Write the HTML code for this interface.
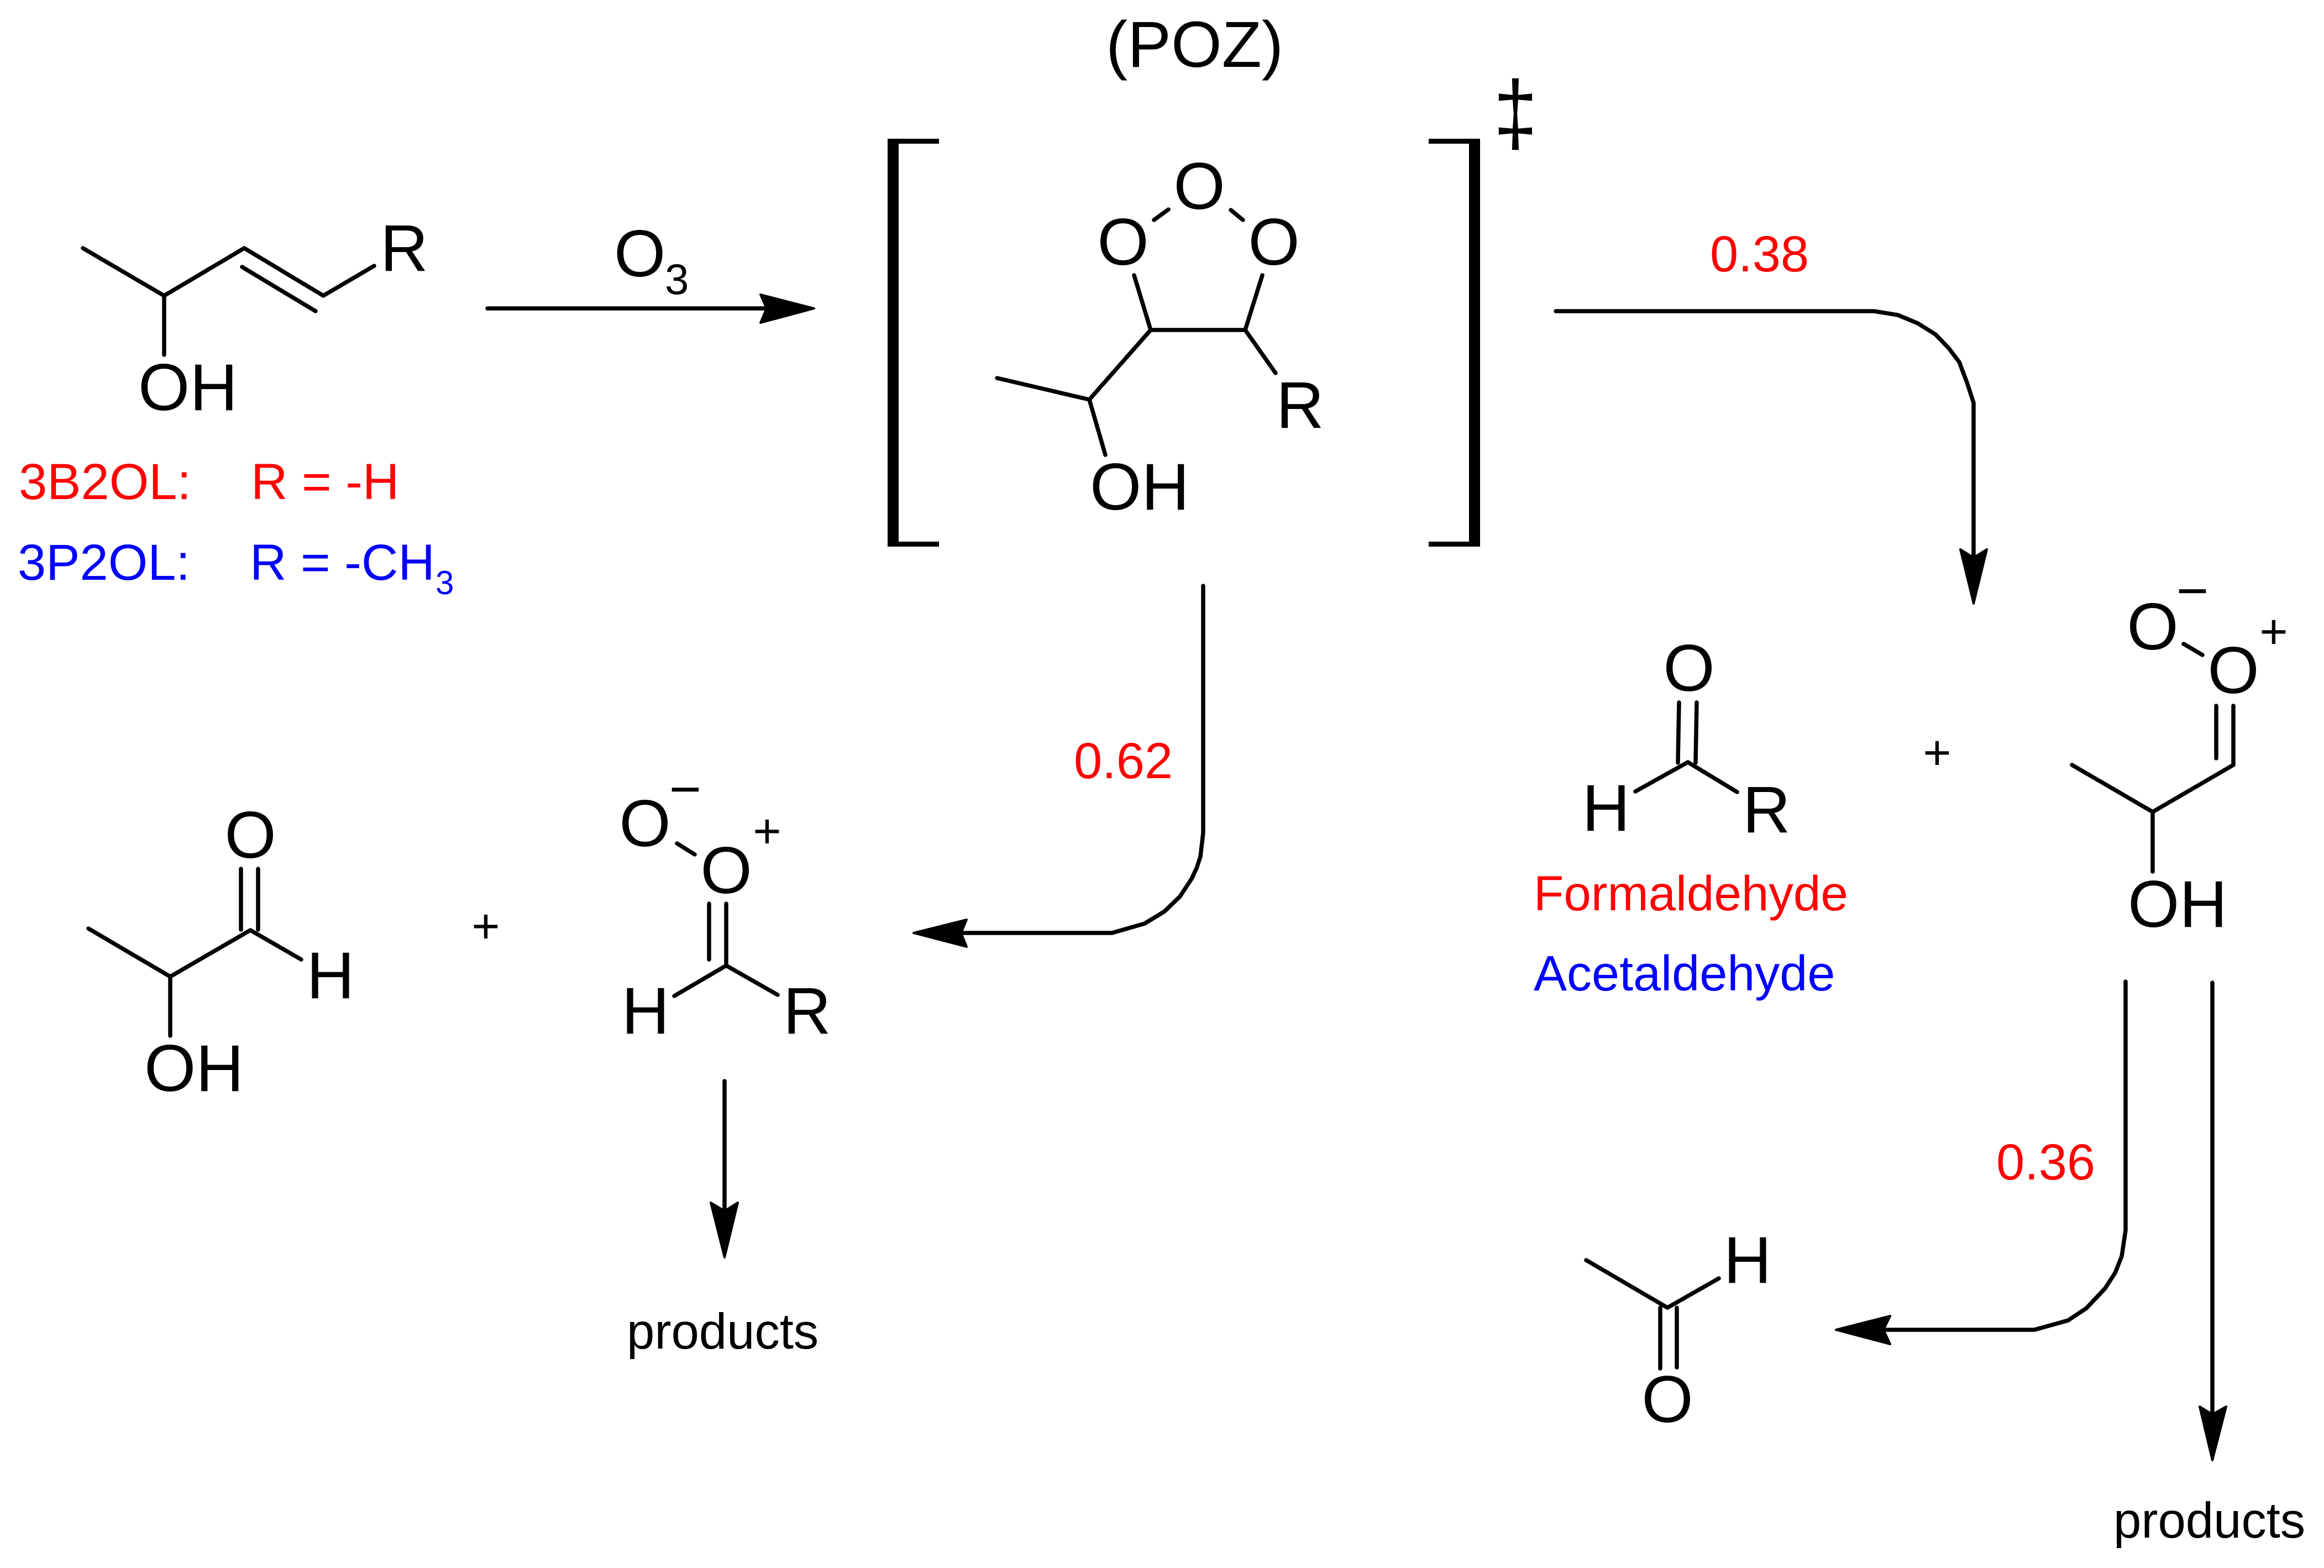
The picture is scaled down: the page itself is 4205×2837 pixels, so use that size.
<!DOCTYPE html>
<html><head><meta charset="utf-8"><style>
html,body{margin:0;padding:0;background:#fff}
svg{display:block}
text{font-family:"Liberation Sans",Arial,sans-serif;fill:#000}
.b{font-size:120px}
.m{text-anchor:middle}
.r{fill:#f00;font-size:92px}
.u{fill:#00f;font-size:92px}
.p{font-size:90px}
.c{font-size:88px;text-anchor:middle}
line,polyline,path.l{stroke:#000;stroke-width:7.5;stroke-linecap:round;stroke-linejoin:round;fill:none}
</style></head><body>
<svg xmlns="http://www.w3.org/2000/svg" width="4205" height="2837" viewBox="0 0 4205 2837">
<rect width="4205" height="2837" fill="#fff"/>
<!-- reactant -->
<polyline points="150,449 297,535 442,449 585,535 677,481"/>
<line x1="438" y1="483" x2="571" y2="563"/>
<line x1="297" y1="535" x2="297" y2="642"/>
<text class="b" x="250" y="742">OH</text>
<text class="b" x="688" y="490">R</text>
<text class="r" x="34" y="903">3B2OL:</text>
<text class="r" x="454" y="903">R = -H</text>
<text class="u" x="32" y="1049">3P2OL:</text>
<text class="u" x="452" y="1049">R = -CH</text>
<text class="u" x="788" y="1075" style="font-size:60px">3</text>
<!-- O3 arrow -->
<text class="b" x="1111" y="500">O</text>
<text x="1203" y="532" style="font-size:78px">3</text>
<line x1="882" y1="558" x2="1400" y2="558"/>
<polygon points="1473,558 1376,533 1387,558 1376,584" stroke="#000" stroke-width="4" stroke-linejoin="round"/>
<!-- POZ -->
<text class="b" x="2001" y="121" style="font-size:118px">(POZ)</text>
<path d="M1699,251H1606V989H1699V980H1626V260H1699Z"/>
<path d="M2585,251H2678V989H2585V980H2658V260H2585Z"/>
<text transform="translate(2742 260) scale(1.05 1.2)" text-anchor="middle" style="font-size:136px">‡</text>
<text class="b m" x="2170" y="378">O</text>
<text class="b m" x="2032" y="479">O</text>
<text class="b m" x="2305" y="479">O</text>
<line x1="2088" y1="398" x2="2114" y2="379"/>
<line x1="2227" y1="380" x2="2249" y2="398"/>
<polyline points="2052,498 2082,597 2253,597 2284,498"/>
<line x1="2253" y1="597" x2="2308" y2="675"/>
<polyline points="2082,597 1971,723 1804,684"/>
<line x1="1971" y1="723" x2="2000" y2="823"/>
<text class="b" x="2309" y="774">R</text>
<text class="b" x="1972" y="922">OH</text>
<!-- 0.38 arrow -->
<text class="r" x="3094" y="491">0.38</text>
<polyline points="2815,563 3391,563 3434,570 3470,585 3502,605 3526,630 3545,655 3559,692 3571,729 3571,1020"/>
<polygon points="3571,1092 3547,994 3571,1009 3595,994" stroke="#000" stroke-width="4" stroke-linejoin="round"/>
<!-- formaldehyde -->
<text class="b m" x="3056" y="1250">O</text>
<line x1="3038" y1="1271" x2="3036" y2="1380"/>
<line x1="3070" y1="1271" x2="3068" y2="1380"/>
<polyline points="2959,1432 3054,1379 3143,1433"/>
<text class="b m" x="2906" y="1503">H</text>
<text class="b" x="3153" y="1506">R</text>
<text class="r" x="2775" y="1647" style="font-size:89px">Formaldehyde</text>
<text class="u" x="2775" y="1792" style="font-size:90px">Acetaldehyde</text>
<text class="c" x="3505" y="1392">+</text>
<!-- right Criegee -->
<text class="b m" x="3895" y="1175">O</text>
<text x="3967" y="1103" text-anchor="middle" style="font-size:100px">−</text>
<line x1="3951" y1="1165" x2="3985" y2="1185"/>
<text class="b m" x="4041" y="1254">O</text>
<text class="c" x="4114" y="1173">+</text>
<line x1="4010" y1="1277" x2="4010" y2="1372"/>
<polyline points="4041,1277 4041,1384 3895,1469 3749,1384"/>
<line x1="3895" y1="1469" x2="3895" y2="1577"/>
<text class="b" x="3850" y="1677">OH</text>
<!-- 0.62 arrow -->
<text class="r" x="1943" y="1408">0.62</text>
<polyline points="2177,1060 2177,1507 2172,1550 2165,1571 2156,1590 2135,1622 2107,1649 2071,1671 2012,1688 1730,1688"/>
<polygon points="1653,1688 1749,1664 1739,1688 1749,1713" stroke="#000" stroke-width="4" stroke-linejoin="round"/>
<!-- left product -->
<polyline points="160,1680 308,1767 453,1683 545,1736"/>
<line x1="308" y1="1767" x2="308" y2="1874"/>
<line x1="436" y1="1572" x2="436" y2="1682"/>
<line x1="467" y1="1572" x2="467" y2="1682"/>
<text class="b m" x="453" y="1552">O</text>
<text class="b m" x="598" y="1806">H</text>
<text class="b" x="261" y="1974">OH</text>
<text class="c" x="879" y="1706">+</text>
<!-- left Criegee -->
<text class="b m" x="1167" y="1531">O</text>
<text x="1240" y="1462" text-anchor="middle" style="font-size:100px">−</text>
<line x1="1225" y1="1526" x2="1257" y2="1546"/>
<text class="b m" x="1314" y="1616">O</text>
<text class="c" x="1388" y="1534">+</text>
<line x1="1283" y1="1635" x2="1283" y2="1736"/>
<polyline points="1314,1635 1314,1747 1220,1802"/>
<line x1="1314" y1="1747" x2="1407" y2="1800"/>
<text class="b m" x="1168" y="1870">H</text>
<text class="b" x="1417" y="1870">R</text>
<line x1="1311" y1="1956" x2="1311" y2="2200"/>
<polygon points="1311,2275 1286,2176 1311,2191 1335,2176" stroke="#000" stroke-width="4" stroke-linejoin="round"/>
<text class="p" x="1134" y="2440" style="font-size:90.5px">products</text>
<!-- 0.36 arrow -->
<text class="r" x="3612" y="2134">0.36</text>
<polyline points="3846,1776 3846,2226 3839,2273 3827,2303 3809,2331 3775,2367 3742,2389 3681,2406 3400,2406"/>
<polygon points="3322,2406 3420,2381 3408,2406 3420,2432" stroke="#000" stroke-width="4" stroke-linejoin="round"/>
<line x1="4003" y1="1778" x2="4003" y2="2570"/>
<polygon points="4003,2642 3980,2545 4003,2559 4028,2545" stroke="#000" stroke-width="4" stroke-linejoin="round"/>
<text class="p" x="3824" y="2782" style="font-size:90.5px">products</text>
<!-- acetaldehyde product -->
<polyline points="2870,2280 3017,2366 3110,2313"/>
<line x1="3004" y1="2366" x2="3004" y2="2476"/>
<line x1="3034" y1="2366" x2="3034" y2="2474"/>
<text class="b m" x="3162" y="2321">H</text>
<text class="b m" x="3017" y="2573">O</text>
</svg>
</body></html>
